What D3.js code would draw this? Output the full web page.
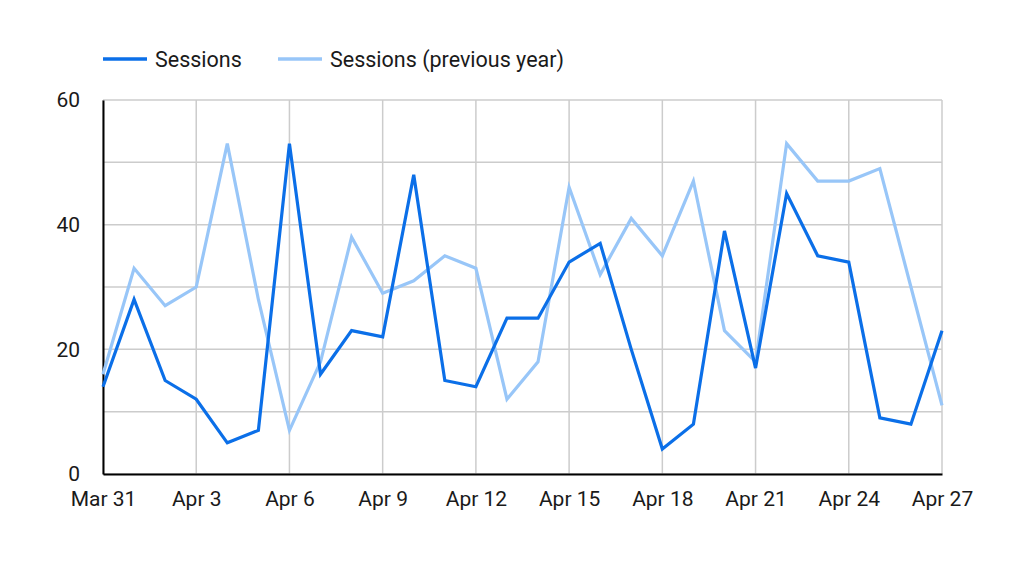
<!DOCTYPE html>
<html><head><meta charset="utf-8">
<script src="https://cdn.jsdelivr.net/npm/d3@7/dist/d3.min.js"></script>
<style>body{margin:0;background:#fff;} svg{display:block;font-family:Roboto, sans-serif;}</style>
</head><body><svg id="c" width="1024" height="576"></svg>
<script>
const dates = ["2024-03-31","2024-04-01","2024-04-02","2024-04-03","2024-04-04","2024-04-05","2024-04-06","2024-04-07","2024-04-08","2024-04-09","2024-04-10","2024-04-11","2024-04-12","2024-04-13","2024-04-14","2024-04-15","2024-04-16","2024-04-17","2024-04-18","2024-04-19","2024-04-20","2024-04-21","2024-04-22","2024-04-23","2024-04-24","2024-04-25","2024-04-26","2024-04-27"];
const sessions = [14,28,15,12,5,7,53,16,23,22,48,15,14,25,25,34,37,20,4,8,39,17,45,35,34,9,8,23];
const sessionsPrev = [16,33,27,30,53,28,7,18,38,29,31,35,33,12,18,46,32,41,35,47,23,18,53,47,47,49,30,11];
const yTicks = [0,20,40,60];
const yGrid = [0,10,20,30,40,50,60];
const seriesNames = ["Sessions","Sessions (previous year)"];
const colors = ["#0b6fe8","#98c6f8"];

const svg = d3.select("#c");
const parse = d3.utcParse("%Y-%m-%d");
const xd = dates.map(parse);
const L=103, R=942, T=100, B=474;
const x = d3.scaleUtc().domain([xd[0], xd[xd.length-1]]).range([L,R]);
const y = d3.scaleLinear().domain([0,60]).range([B,T]);
const xTickDates = xd.filter((d,i)=>i%3===0);
const fmt = d3.utcFormat("%b %-d");

// grid
svg.append("g").selectAll("line").data(yGrid).join("line")
  .attr("x1",L).attr("x2",R).attr("y1",d=>y(d)).attr("y2",d=>y(d))
  .attr("stroke","#cccccc").attr("stroke-width",1.5);
svg.append("g").selectAll("line").data(xTickDates).join("line")
  .attr("x1",d=>x(d)).attr("x2",d=>x(d)).attr("y1",T).attr("y2",B)
  .attr("stroke","#cccccc").attr("stroke-width",1.5);

// axes
const yAxis = svg.append("g").attr("transform",`translate(${L},0)`)
  .call(d3.axisLeft(y).tickValues(yTicks).tickSize(0).tickPadding(23));
yAxis.select(".domain").attr("stroke","#000").attr("stroke-width",2);
yAxis.selectAll("text").attr("font-size",21).attr("fill","#1a1a1a").attr("font-family","Roboto");

const xAxis = svg.append("g").attr("transform",`translate(0,${B})`)
  .call(d3.axisBottom(x).tickValues(xTickDates).tickFormat(fmt).tickSize(0).tickPadding(17));
xAxis.select(".domain").attr("stroke","#000").attr("stroke-width",2);
xAxis.selectAll("text").attr("font-size",21).attr("fill","#1a1a1a").attr("font-family","Roboto");

// lines
const line = d3.line().x((d,i)=>x(xd[i])).y(d=>y(d));
[sessionsPrev, sessions].forEach((s,k)=>{
  const c = k===0 ? colors[1] : colors[0];
  svg.append("path").datum(s).attr("d",line).attr("fill","none")
    .attr("stroke",c).attr("stroke-width",3.2).attr("stroke-linejoin","miter");
});

// legend
const leg = [{n:seriesNames[0],c:colors[0],x:103},{n:seriesNames[1],c:colors[1],x:278}];
leg.forEach(l=>{
  svg.append("line").attr("x1",l.x).attr("x2",l.x+44).attr("y1",59).attr("y2",59)
    .attr("stroke",l.c).attr("stroke-width",3.5);
  svg.append("text").attr("x",l.x+52).attr("y",59).attr("dy","0.35em")
    .attr("font-size",21.5).attr("fill","#1a1a1a").text(l.n);
});
</script></body></html>
